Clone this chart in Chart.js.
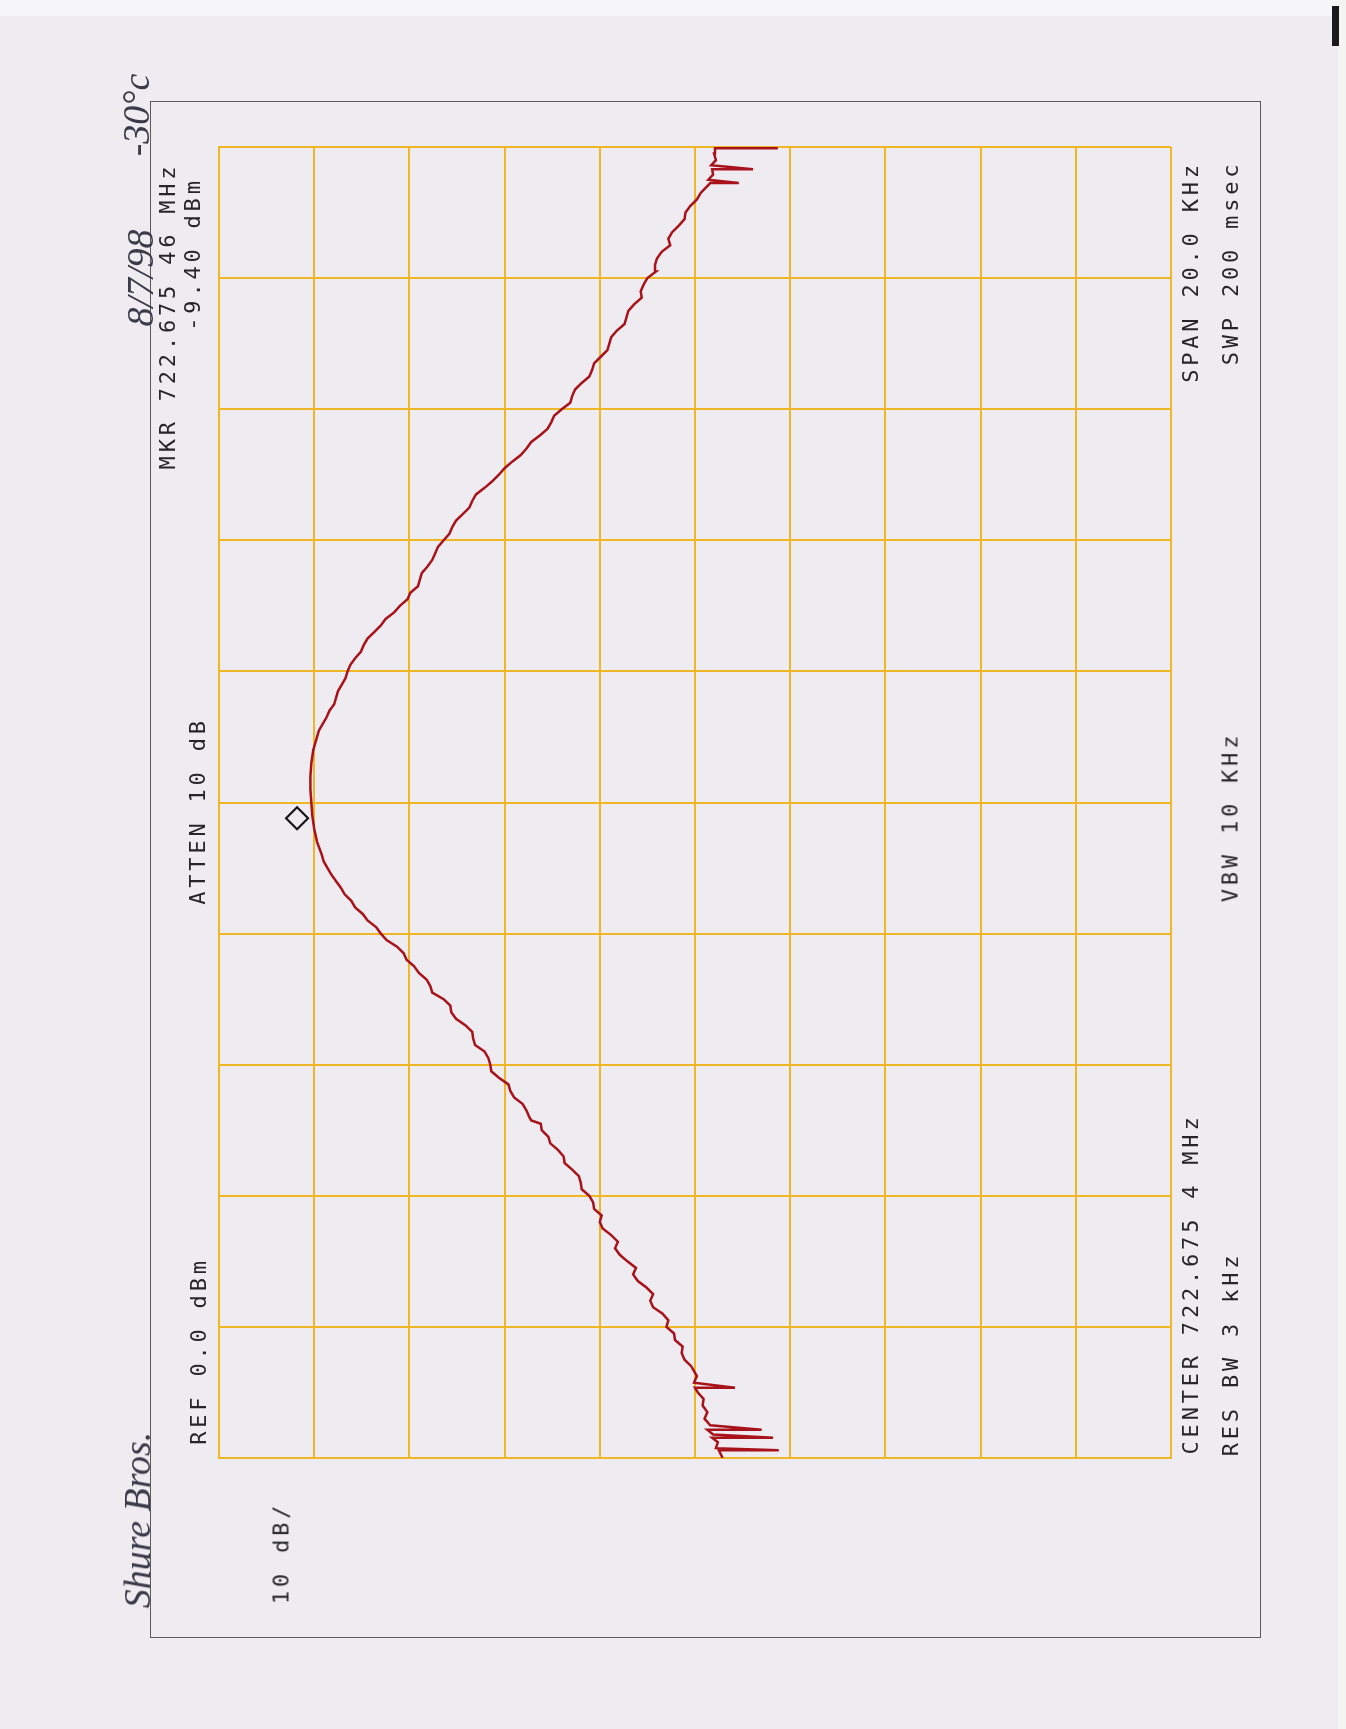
<!DOCTYPE html>
<html>
<head>
<meta charset="utf-8">
<script src="https://cdn.jsdelivr.net/npm/chart.js@4.4.1/dist/chart.umd.min.js"></script>
<style>
body{margin:0;background:#eeecf1;width:1346px;height:1729px;position:relative;overflow:hidden;}
#topstrip{position:absolute;left:0;top:0;width:1346px;height:16px;background:#f6f6f8;}
#rightstrip{position:absolute;left:1338px;top:0;width:8px;height:1729px;background:#f4f4f2;}
#blackmark{position:absolute;left:1332px;top:6px;width:7px;height:40px;background:#1a1a1a;}
#frame{position:absolute;left:150px;top:101px;width:1109px;height:1535px;border:1.5px solid #5a5a5a;}
canvas{position:absolute;left:0;top:0;}
.lbl{position:absolute;white-space:nowrap;font-family:"DejaVu Sans Mono",monospace;font-size:22px;letter-spacing:3.8px;color:#26262a;transform:translate(-50%,-50%) rotate(-90deg);}
.hand{position:absolute;white-space:nowrap;font-family:"Liberation Serif",serif;font-style:italic;font-size:38px;color:#3a3a48;transform:translate(-50%,-50%) rotate(-90deg);}
</style>
</head>
<body>
<div id="topstrip"></div>
<div id="rightstrip"></div>
<div id="blackmark"></div>
<div id="frame"></div>
<canvas id="specChart" width="1346" height="1729"></canvas>

<div class="hand" style="left:136px;top:115px;">-30°c</div>
<div class="hand" style="left:140px;top:278px;">8/7/98</div>
<div class="hand" style="left:137px;top:1520px;">Shure Bros.</div>

<div class="lbl" style="left:167px;top:316px;">MKR 722.675 46 MHz</div>
<div class="lbl" style="left:192px;top:254px;">-9.40 dBm</div>
<div class="lbl" style="left:197px;top:811px;">ATTEN 10 dB</div>
<div class="lbl" style="left:198px;top:1351px;">REF 0.0 dBm</div>
<div class="lbl" style="left:281px;top:1553px;">10 dB/</div>
<div class="lbl" style="left:1190px;top:272px;">SPAN 20.0 KHz</div>
<div class="lbl" style="left:1230px;top:263px;">SWP 200 msec</div>
<div class="lbl" style="left:1230px;top:817px;">VBW 10 KHz</div>
<div class="lbl" style="left:1190px;top:1284px;">CENTER 722.675 4 MHz</div>
<div class="lbl" style="left:1230px;top:1354px;">RES BW 3 kHz</div>

<script>
// span 20 kHz around center, 10 dB/div from REF 0.0 dBm
const refLevel = 0;
const dbPerDiv = 10;
const spanKHz = 20;

// trace: frequency offset from center (kHz) and level (dBm)
const freqKHz = [
-10.0,-9.88,-9.88,-9.85,-9.76,-9.69,-9.69,-9.64,-9.57,-9.57,-9.5,-9.4,-9.3,-9.2,-9.1,-9.0,-8.93,-8.93,-8.85,-8.75,
-8.6,-8.5,-8.4,-8.3,-8.2,-8.1,-8.0,-7.9,-7.8,-7.7,-7.6,-7.5,-7.4,-7.3,-7.2,-7.1,-7.0,-6.9,-6.8,-6.7,
-6.6,-6.5,-6.4,-6.3,-6.2,-6.1,-6.0,-5.9,-5.8,-5.7,-5.6,-5.5,-5.4,-5.3,-5.2,-5.1,-5.0,-4.9,-4.85,-4.8,
-4.7,-4.6,-4.5,-4.4,-4.3,-4.2,-4.1,-4.0,-3.9,-3.8,-3.7,-3.6,-3.5,-3.4,-3.3,-3.2,-3.1,-3.0,-2.9,-2.8,
-2.7,-2.6,-2.5,-2.4,-2.3,-2.2,-2.1,-2.0,-1.9,-1.8,-1.7,-1.6,-1.5,-1.4,-1.3,-1.2,-1.1,-1.0,-0.9,-0.8,
-0.6,-0.4,-0.2,0.0,0.2,0.4,0.6,0.8,0.9,1.0,1.1,1.2,1.3,1.4,1.5,1.6,1.7,1.8,1.9,2.0,
2.1,2.2,2.3,2.4,2.5,2.6,2.7,2.8,2.9,3.0,3.1,3.2,3.3,3.4,3.5,3.6,3.7,3.8,3.9,4.0,
4.1,4.2,4.3,4.4,4.5,4.6,4.7,4.8,4.9,5.0,5.1,5.2,5.3,5.4,5.5,5.6,5.7,5.8,5.9,6.0,
6.1,6.2,6.3,6.4,6.5,6.6,6.7,6.8,6.9,7.0,7.1,7.2,7.3,7.4,7.5,7.6,7.7,7.8,7.9,8.0,
8.1,8.2,8.3,8.4,8.5,8.6,8.7,8.8,8.9,9.0,9.1,9.2,9.3,9.45,9.45,9.5,9.58,9.66,9.66,9.72,
9.8,9.9,9.98,9.98,10.0
];
const levelDbm = [
-52.9,-52.5,-58.8,-52.2,-52.4,-51.8,-58.2,-51.9,-51.3,-57.0,-51.6,-51.0,-51.3,-50.8,-50.9,-50.3,-50.0,-54.2,-49.9,-50.2,
-49.6,-48.9,-48.6,-48.7,-47.9,-47.8,-47.0,-47.2,-46.6,-45.6,-45.3,-45.6,-44.9,-44.0,-43.5,-43.8,-42.9,-42.1,-41.6,-41.9,
-41.2,-40.3,-40.0,-40.2,-39.4,-39.3,-38.9,-38.1,-38.0,-37.8,-37.1,-36.3,-36.2,-35.6,-34.8,-34.6,-33.9,-33.8,-32.8,-32.6,
-32.3,-31.9,-31.0,-30.6,-30.4,-29.4,-28.6,-28.5,-28.3,-27.9,-26.9,-26.7,-26.6,-25.9,-24.9,-24.4,-24.3,-23.6,-22.4,-22.2,
-21.8,-21.0,-20.5,-19.7,-19.4,-18.7,-17.6,-17.0,-16.5,-15.6,-15.1,-14.3,-13.9,-13.2,-12.8,-12.3,-11.8,-11.4,-11.0,-10.8,
-10.3,-10.0,-9.8,-9.7,-9.6,-9.6,-9.7,-9.9,-10.1,-10.3,-10.5,-10.9,-11.3,-11.6,-12.1,-12.3,-12.5,-12.9,-13.3,-13.5,
-13.8,-14.3,-14.9,-15.2,-15.6,-16.3,-17.0,-17.5,-18.4,-19.0,-19.8,-20.1,-20.9,-21.1,-21.3,-21.9,-22.4,-22.7,-23.0,-23.6,
-24.2,-24.5,-24.9,-25.6,-26.3,-26.6,-27.0,-27.9,-28.7,-29.4,-30.0,-30.8,-31.7,-32.3,-32.8,-33.7,-34.5,-34.9,-35.2,-36.0,
-36.9,-37.1,-37.4,-38.1,-38.9,-39.2,-39.4,-40.1,-40.8,-41.0,-41.2,-41.8,-42.6,-42.8,-43.0,-43.6,-44.4,-44.3,-44.6,-45.0,
-45.9,-45.8,-46.0,-46.5,-47.4,-47.2,-47.6,-48.3,-48.9,-49.0,-49.5,-50.2,-50.6,-51.6,-54.6,-51.4,-51.9,-51.8,-56.1,-51.7,
-52.2,-52.0,-52.1,-58.7,-52.1
];

// marker diamond, drawn just above the trace near the peak
const markerKHz = [-0.24];
const markerLevel = [-8.2];

const gridColor = '#efb626';
const traceColor = '#a8121a';

let tracePts = freqKHz.map((f, i) => ({x: levelDbm[i], y: f}));
let markerPts = markerKHz.map((f, i) => ({x: markerLevel[i], y: f}));

const ctx = document.getElementById('specChart');

new Chart(ctx, {
type: 'scatter',
data: {
datasets: [{
data: tracePts,
showLine: true,
borderColor: traceColor,
borderWidth: 2.5,
pointRadius: 0,
tension: 0
},{
data: markerPts,
pointStyle: 'rectRot',
pointRadius: 11,
borderColor: '#151515',
borderWidth: 2.2,
backgroundColor: 'rgba(0,0,0,0)'
}]
},
options: {
responsive: false,
animation: false,
layout: {padding: {left: 219, right: 175, top: 147, bottom: 271}},
plugins: {legend: {display: false}, tooltip: {enabled: false}},
scales: {
x: {
type: 'linear',
min: refLevel - 10 * dbPerDiv,
max: refLevel,
reverse: true,
ticks: {display: false, stepSize: dbPerDiv},
grid: {color: gridColor, lineWidth: 2, drawTicks: false},
border: {color: gridColor, width: 2}
},
y: {
type: 'linear',
min: -spanKHz / 2,
max: spanKHz / 2,
ticks: {display: false, stepSize: spanKHz / 10},
grid: {color: gridColor, lineWidth: 2, drawTicks: false},
border: {color: gridColor, width: 2}
}
}
}
});
</script>
</body>
</html>
